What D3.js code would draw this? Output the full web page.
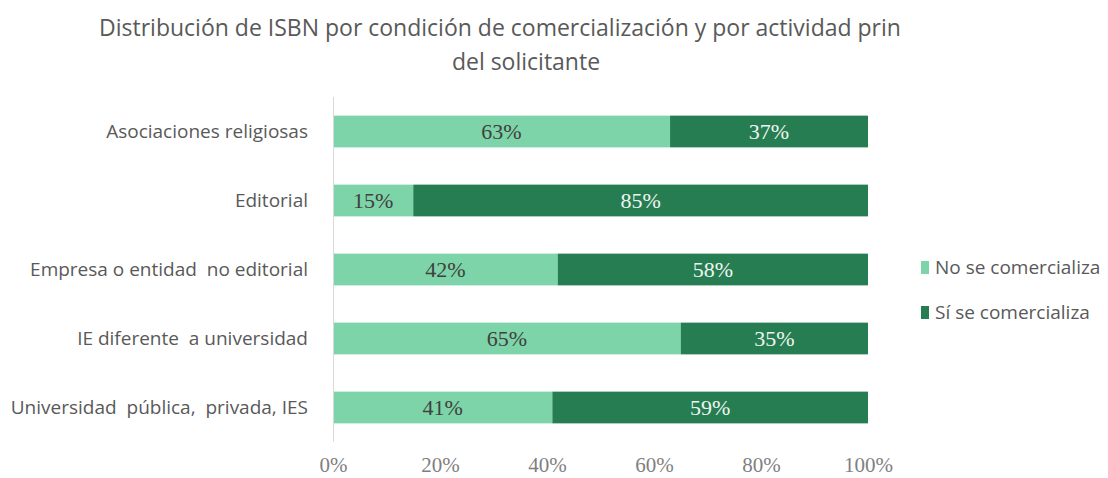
<!DOCTYPE html>
<html>
<head>
<meta charset="utf-8">
<script src="https://cdn.jsdelivr.net/npm/d3@7"></script>
<style>
  body { margin: 0; background: #fff; }
  svg text { font-family: "Open Sans", Lato, sans-serif; }
</style>
</head>
<body>
<svg id="chart" width="1108" height="478"></svg>
<script>
// data
const categories = [
  'Asociaciones religiosas',
  'Editorial',
  'Empresa o entidad  no editorial',
  'IE diferente  a universidad',
  'Universidad  pública,  privada, IES'
]
const noComercializa = [63, 15, 42, 65, 41]
const siComercializa = [37, 85, 58, 35, 59]
const seriesNames = ['No se comercializa', 'Sí se comercializa']
const xTicks = [0, 20, 40, 60, 80, 100]

const colors = ['#7dd4a8', '#277d52']

const svg = d3.select('#chart')

const x = d3.scaleLinear().domain([0, 100]).range([333, 868])
const y = d3.scaleBand().domain(categories).range([97, 442])
  .paddingInner(0.54).paddingOuter(0.27)

// title
svg.append('text')
  .attr('x', 500).attr('y', 36)
  .attr('text-anchor', 'middle')
  .attr('font-size', 23).attr('fill', '#595959')
  .text('Distribución de ISBN por condición de comercialización y por actividad prin')
svg.append('text')
  .attr('x', 526).attr('y', 70)
  .attr('text-anchor', 'middle')
  .attr('font-size', 23).attr('fill', '#595959')
  .text('del solicitante')

// stack the two series
const rows = categories.map((c, i) => ({cat: c, no: noComercializa[i], si: siComercializa[i]}))
const stack = d3.stack().keys(['no', 'si'])(rows)

const layer = svg.selectAll('g.layer')
  .data(stack)
  .join('g')
  .attr('class', 'layer')
  .attr('fill', (d, i) => colors[i])

layer.selectAll('rect')
  .data(d => d)
  .join('rect')
  .attr('x', d => x(d[0]))
  .attr('y', d => y(d.data.cat))
  .attr('width', d => x(d[1]) - x(d[0]))
  .attr('height', y.bandwidth())

// value labels
layer.each(function(s, i) {
  d3.select(this).selectAll('text')
    .data(s)
    .join('text')
    .attr('x', d => (x(d[0]) + x(d[1])) / 2)
    .attr('y', d => y(d.data.cat) + y.bandwidth() / 2 + 7)
    .attr('text-anchor', 'middle')
    .style('font-family', '"Liberation Serif", "DejaVu Serif", serif')
    .attr('font-size', 22)
    .attr('fill', i === 0 ? '#404040' : '#eef5f0')
    .text(d => (d[1] - d[0]) + '%')
})

// y axis line and category labels
svg.append('line')
  .attr('x1', 333.5).attr('x2', 333.5)
  .attr('y1', 97).attr('y2', 442)
  .attr('stroke', '#d9d9d9').attr('stroke-width', 1)

svg.append('g')
  .selectAll('text')
  .data(categories)
  .join('text')
  .attr('x', 308)
  .attr('y', d => y(d) + y.bandwidth() / 2 + 6)
  .attr('text-anchor', 'end')
  .attr('font-size', 19)
  .attr('fill', '#595959')
  .style('white-space', 'pre')
  .text(d => d)

// x axis, labels only
const xAxis = d3.axisBottom(x).tickValues(xTicks).tickFormat(d => d + '%').tickSize(0)
const gx = svg.append('g')
  .attr('transform', 'translate(0,472)')
  .call(xAxis)
gx.select('.domain').remove()
gx.selectAll('text')
  .attr('y', 0).attr('dy', 0)
  .style('font-family', '"Liberation Serif", "DejaVu Serif", serif')
  .attr('font-size', 21)
  .attr('fill', '#7f7f7f')

// legend
const legend = svg.append('g')
  .selectAll('g')
  .data(seriesNames)
  .join('g')
  .attr('transform', (d, i) => 'translate(921,' + (261 + i * 45) + ')')
legend.append('rect')
  .attr('width', 8).attr('height', 13)
  .attr('fill', (d, i) => colors[i])
legend.append('text')
  .attr('x', 14).attr('y', 13)
  .attr('font-size', 19)
  .attr('fill', '#595959')
  .text(d => d)
</script>
</body>
</html>
